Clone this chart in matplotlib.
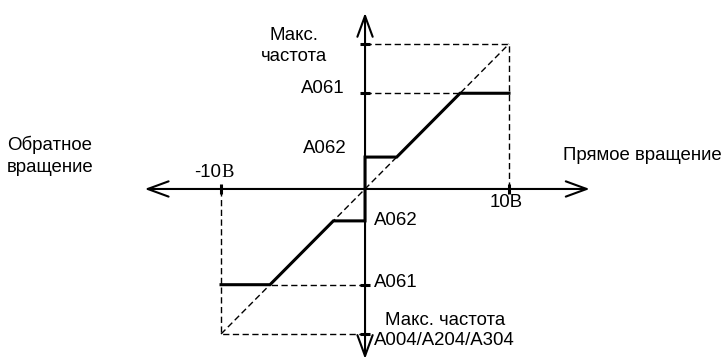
import matplotlib
matplotlib.use("Agg")
from matplotlib import pyplot as plt

# output frequency characteristic (volts vs % of max frequency)
v_out = [-10, -6.6, -2.2, 0, 0, 2.2, 6.6, 10]
f_out = [-66, -66, -22, -22, 22, 22, 66, 66]
v_max = 10
f_max = 100
a061 = 66
a062 = 22

FONT = 'Liberation Sans'
FS = 13.4
DASH = dict(color='black', lw=1.0, linestyle=(0, (4.5, 2.5)))

fig = plt.figure(figsize=(7.23, 3.62), dpi=100)
ax = fig.add_axes([0, 0, 1, 1])
ax.set_xlim(-25.35, 24.86)
ax.set_ylim(-119.3, 130.3)
ax.axis('off')

# axes with open arrow heads
arrow = dict(arrowstyle='<->, head_length=15, head_width=5.5', lw=1.5,
             color='black', shrinkA=0, shrinkB=0, mutation_scale=1)
ax.annotate('', xy=(15.6, 0), xytext=(-15.3, 0), arrowprops=arrow)
ax.annotate('', xy=(0, 121.4), xytext=(0, -117.2), arrowprops=arrow)

# dashed guides
ax.plot([-v_max, v_max], [-f_max, f_max], **DASH)
ax.plot([0, v_max, v_max], [f_max, f_max, 0], **DASH)
ax.plot([0, -v_max, -v_max], [-f_max, -f_max, 0], **DASH)
ax.plot([0, v_out[-2]], [a061, a061], **DASH)
ax.plot([0, v_out[1]], [-a061, -a061], **DASH)

# characteristic
ax.plot(v_out, f_out, color='black', lw=2.2, solid_joinstyle='miter')

# tick marks
ax.plot([0, 0, 0, 0], [f_max, a061, -a061, -f_max], ls='none', marker='_',
        ms=7.5, mew=2.2, color='black')
ax.plot([-v_max, v_max], [0, 0], ls='none', marker='|', ms=6.5, mew=2.2,
        color='black')

def label(x, y, s, ha='left', **kw):
    ax.text(x, y, s, ha=ha, va='baseline', fontsize=FS, family=FONT, **kw)

label(-4.93, 102.8, 'Макс.', ha='center')
label(-4.93, 88.0, 'частота', ha='center')
label(-1.39, 66.2, 'A061', ha='right')
label(-1.25, 24.8, 'A062', ha='right')
label(-10.0, 8.3, '-10', ha='right')
ax.text(-10.0, 8.3, 'В', ha='left', va='baseline', fontsize=FS,
        family='Liberation Serif')
label(-24.86, 26.9, 'Обратное')
label(-24.86, 11.7, 'вращение')
label(24.75, 20.0, 'Прямое вращение', ha='right')
label(9.8, -12.4, '10В', ha='center')
label(0.63, -24.8, 'A062')
label(0.63, -67.6, 'A061')
label(1.39, -93.8, 'Макс. частота')
label(0.63, -107.6, 'A004/A204/A304')

fig.savefig('out.png', dpi=100)
